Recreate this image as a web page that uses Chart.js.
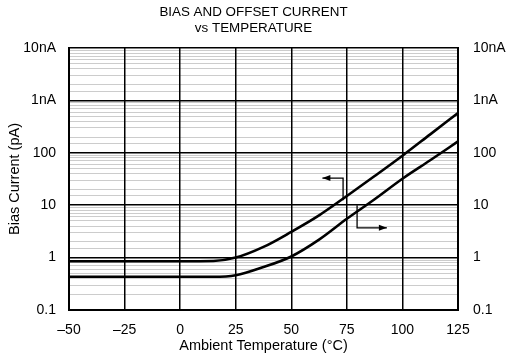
<!DOCTYPE html>
<html>
<head>
<meta charset="utf-8">
<script src="https://cdn.jsdelivr.net/npm/chart.js@4/dist/chart.umd.min.js"></script>
<style>
  html, body { margin: 0; padding: 0; background: #fff; }
  #wrap { width: 507px; height: 363px; }
</style>
</head>
<body>
<div id="wrap"><canvas id="c" width="507" height="363"></canvas></div>
<script>
// Data (current in pA vs temperature in °C)
const temperatures = [-50, -25, 0, 15, 25, 37.5, 50, 62.5, 75, 87.5, 100, 112.5, 125];
const biasCurrent   = [0.85, 0.85, 0.85, 0.86, 1.0, 1.6, 3.1, 6.4, 15, 36, 88, 225, 575];
const offsetCurrent = [0.43, 0.43, 0.43, 0.43, 0.46, 0.66, 1.05, 2.2, 5.5, 13, 32, 72, 165];
const xTicks = [-50, -25, 0, 25, 50, 75, 100, 125];
const yTickLabels = { "0.1": "0.1", "1": "1", "10": "10", "100": "100", "1000": "1nA", "10000": "10nA" };
// Annotation arrows (data coordinates): [x, y] vertices
const biasArrow = [[73.3, 12.5], [73.3, 33], [64, 33]];
const offsetArrow = [[79.6, 10], [79.6, 3.7], [93, 3.7]];

const FONT = "'Liberation Sans', Arial, Helvetica, sans-serif";

function isDecade(v) {
  const l = Math.log10(v);
  return Math.abs(l - Math.round(l)) < 1e-6;
}
function yLabel(v) {
  if (!isDecade(v)) return '';
  const e = Math.round(Math.log10(v));
  const k = e === -1 ? '0.1' : String(Math.pow(10, e));
  return yTickLabels[k] || '';
}

const arrowPlugin = {
  id: 'arrows',
  afterDatasetsDraw(chart) {
    const ctx = chart.ctx, xs = chart.scales.x, ys = chart.scales.y;
    function drawArrow(pts) {
      const p = pts.map(([a, b]) => [xs.getPixelForValue(a), ys.getPixelForValue(b)]);
      ctx.save();
      ctx.strokeStyle = '#000';
      ctx.fillStyle = '#000';
      ctx.lineWidth = 1.3;
      ctx.beginPath();
      ctx.moveTo(p[0][0], p[0][1]);
      for (let i = 1; i < p.length; i++) ctx.lineTo(p[i][0], p[i][1]);
      ctx.stroke();
      const [x1, y1] = p[p.length - 2], [x2, y2] = p[p.length - 1];
      const ang = Math.atan2(y2 - y1, x2 - x1);
      const L = 8, W = 3;
      ctx.beginPath();
      ctx.moveTo(x2, y2);
      ctx.lineTo(x2 - L * Math.cos(ang) + W * Math.sin(ang), y2 - L * Math.sin(ang) - W * Math.cos(ang));
      ctx.lineTo(x2 - L * Math.cos(ang) - W * Math.sin(ang), y2 - L * Math.sin(ang) + W * Math.cos(ang));
      ctx.closePath();
      ctx.fill();
      ctx.restore();
    }
    drawArrow(biasArrow);
    drawArrow(offsetArrow);
  }
};

const yCommon = {
  type: 'logarithmic',
  min: 0.1,
  max: 10000,
  ticks: {
    autoSkip: false,
    color: '#000',
    font: { family: FONT, size: 14 },
    padding: 13,
    callback: (v) => yLabel(v)
  }
};

new Chart(document.getElementById('c'), {
  type: 'line',
  data: {
    datasets: [
      {
        label: 'Bias Current',
        data: temperatures.map((t, i) => ({ x: t, y: biasCurrent[i] })),
        borderColor: '#000',
        borderWidth: 2.6,
        pointRadius: 0,
        cubicInterpolationMode: 'monotone',
        fill: false
      },
      {
        label: 'Offset Current',
        data: temperatures.map((t, i) => ({ x: t, y: offsetCurrent[i] })),
        borderColor: '#000',
        borderWidth: 2.6,
        pointRadius: 0,
        cubicInterpolationMode: 'monotone',
        fill: false
      }
    ]
  },
  options: {
    responsive: false,
    animation: false,
    devicePixelRatio: 1,
    layout: { padding: { left: 0, right: 0, top: 4, bottom: 0 } },
    plugins: {
      legend: { display: false },
      tooltip: { enabled: false },
      title: {
        display: true,
        text: ['BIAS AND OFFSET CURRENT', 'vs TEMPERATURE'],
        color: '#000',
        font: { family: FONT, size: 13.4, weight: 'normal', lineHeight: 1.135 },
        padding: { top: 1.2, bottom: 12.4 }
      }
    },
    scales: {
      x: {
        type: 'linear',
        min: -50,
        max: 125,
        afterBuildTicks: (s) => { s.ticks = xTicks.map(v => ({ value: v })); },
        afterFit: (s) => { s.height = 53; },
        ticks: {
          color: '#000',
          font: { family: FONT, size: 14 },
          padding: 12,
          maxRotation: 0,
          callback: (v) => String(v).replace('-', '\u2013')
        },
        grid: { color: '#000', lineWidth: 1.5, drawTicks: false },
        border: { display: true, color: '#000', width: 2 },
        title: {
          display: true,
          text: 'Ambient Temperature (\u00B0C)',
          color: '#000',
          font: { family: FONT, size: 14.5 },
          padding: { top: 4, bottom: 8 }
        }
      },
      y: Object.assign({}, yCommon, {
        position: 'left',
        afterFit: (s) => { s.width = 69; },
        grid: {
          drawTicks: false,
          color: (c) => (c.tick && isDecade(c.tick.value)) ? '#000' : 'rgba(0,0,0,0.2)',
          lineWidth: (c) => (c.tick && isDecade(c.tick.value)) ? 1.5 : 1
        },
        border: { display: true, color: '#000', width: 2 },
        title: {
          display: true,
          text: 'Bias Current (pA)',
          color: '#000',
          font: { family: FONT, size: 14.5 },
          padding: { top: 6, bottom: 2 }
        }
      }),
      y2: Object.assign({}, yCommon, {
        position: 'right',
        afterFit: (s) => { s.width = 49; },
        ticks: Object.assign({}, yCommon.ticks, { padding: 15 }),
        grid: { drawOnChartArea: false, drawTicks: false },
        border: { display: true, color: '#000', width: 2 }
      })
    }
  },
  plugins: [arrowPlugin]
});
</script>
</body>
</html>
